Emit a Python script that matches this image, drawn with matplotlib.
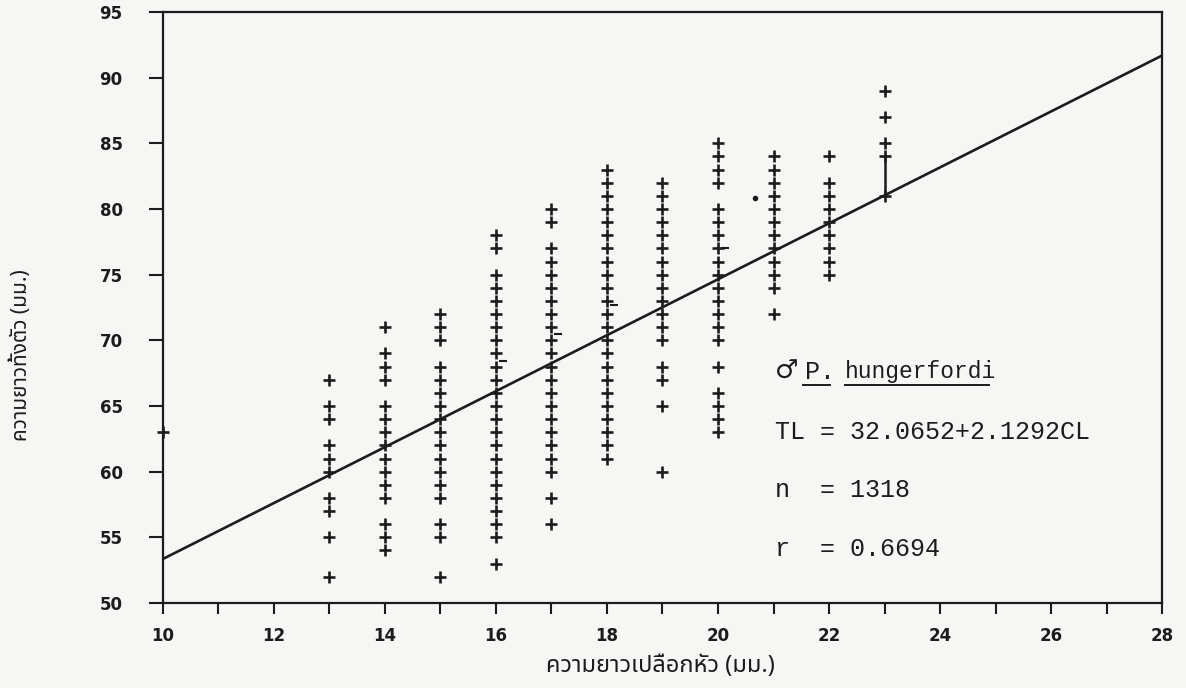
import matplotlib
matplotlib.use("Agg")
import matplotlib.pyplot as plt
from matplotlib.ticker import MultipleLocator

# Carapace length classes (mm) and the total lengths (mm) recorded in each
cl_classes = [13, 14, 15, 16, 17, 18, 19, 20, 21, 22, 23]
tl_13 = [67, 65, 64, 62, 61, 60, 58, 57, 55, 52]
tl_14 = [71, 69, 68, 67, 65, 64, 63, 62, 61, 60, 59, 58, 56, 55, 54]
tl_15 = [72, 71, 70, 68, 67, 66, 65, 64, 63, 62, 61, 60, 59, 58, 56, 55, 52]
tl_16 = [78, 77, 75, 74, 73, 72, 71, 70, 69, 68, 67, 66, 65, 64, 63, 62, 61,
         60, 59, 58, 57, 56, 55, 53]
tl_17 = [80, 79, 77, 76, 75, 74, 73, 72, 71, 70, 69, 68, 67, 66, 65, 64, 63,
         62, 61, 60, 58, 56]
tl_18 = [83, 82, 81, 80, 79, 78, 77, 76, 75, 74, 73, 72, 71, 70, 69, 68, 67,
         66, 65, 64, 63, 62, 61]
tl_19 = [82, 81, 80, 79, 78, 77, 76, 75, 74, 73, 72, 71, 70, 68, 67, 65, 60]
tl_20 = [85, 84, 83, 82, 80, 79, 78, 77, 76, 75, 74, 73, 72, 71, 70, 68, 66,
         65, 64, 63]
tl_21 = [84, 83, 82, 81, 80, 79, 78, 77, 76, 75, 74, 72]
tl_22 = [84, 82, 81, 80, 79, 78, 77, 76, 75]
tl_23 = [89, 87, 85, 84, 81]
tl_by_class = [tl_13, tl_14, tl_15, tl_16, tl_17, tl_18, tl_19, tl_20, tl_21,
               tl_22, tl_23]

# Single record on the y axis
edge_cl = [10]
edge_tl = [63]

# Short class-mean marks beside some columns
mean_cl = [16, 17, 18, 20]
mean_tl = [68.4, 70.5, 72.7, 77.0]

# Regression TL = a + b*CL
intercept = 32.0652
slope = 2.1292
n_obs = 1318
r_value = 0.6694
line_cl = [10, 28]

x_ticks = [10, 12, 14, 16, 18, 20, 22, 24, 26, 28]
y_ticks = [50, 55, 60, 65, 70, 75, 80, 85, 90, 95]

ink = "#1c1c1c"
paper = "#f6f6f4"
thai = ["Noto Sans Thai", "Noto Serif Thai", "Loma", "Garuda", "Norasi",
        "Tlwg Typo", "DejaVu Sans"]

fig = plt.figure(figsize=(11.86, 6.88), dpi=100, facecolor=paper)
ax = fig.add_axes([0.1374, 0.1235, 0.8424, 0.8591])
ax.set_facecolor(paper)

for cl, tls in zip(cl_classes, tl_by_class):
    ax.plot([cl] * len(tls), tls, linestyle="none", marker="+",
            markersize=9, markeredgewidth=1.9, color=ink)

ax.plot(edge_cl, edge_tl, linestyle="none", marker="+", markersize=9,
        markeredgewidth=1.9, color=ink, clip_on=False)

ax.plot([c + 0.12 for c in mean_cl], mean_tl, linestyle="none", marker="_",
        markersize=6, markeredgewidth=1.5, color=ink)

# vertical stroke joining the upper records of the CL 23 class
ax.plot([23, 23], [81, 84], color=ink, linewidth=1.8)
ax.plot([20.67], [80.8], linestyle="none", marker="o", markersize=3,
        color=ink)

line_tl = [intercept + slope * c for c in line_cl]
ax.plot(line_cl, line_tl, color=ink, linewidth=1.9)

ax.set_xlim(10, 28)
ax.set_ylim(50, 95)
ax.set_xticks(x_ticks)
ax.xaxis.set_minor_locator(MultipleLocator(1))
ax.set_yticks(y_ticks)
ax.set_xticklabels([str(v) for v in x_ticks], fontweight="bold",
                   fontsize=12, family="DejaVu Sans")
ax.set_yticklabels([str(v) for v in y_ticks], fontweight="bold",
                   fontsize=12, family="DejaVu Sans")
ax.tick_params(axis="x", which="both", direction="out", length=8, width=1.5,
               pad=9, colors=ink)
ax.tick_params(axis="y", which="both", direction="out", length=10, width=1.5,
               pad=19, colors=ink)
for side in ("left", "right", "top", "bottom"):
    ax.spines[side].set_linewidth(1.6)
    ax.spines[side].set_color(ink)

ax.set_xlabel("ความยาวเปลือกหัว (มม.)", family=thai, fontweight="bold",
              fontsize=17, color=ink)
ax.xaxis.set_label_coords(0.4975, -0.086)
ax.set_ylabel("ความยาวทั้งตัว (มม.)", family=thai, fontweight="bold",
              fontsize=15, color=ink)
ax.yaxis.set_label_coords(-0.131, 0.42)

mono = ["Liberation Mono", "DejaVu Sans Mono"]
tx = 21.03
ax.text(tx, 67.6, "♂", family=["DejaVu Sans"], fontsize=19, color=ink,
        va="center", ha="left")
ax.text(tx + 0.54, 67.6, "P.", family=mono, fontsize=18, color=ink,
        va="center", ha="left")
ax.text(tx + 1.25, 67.6, "hungerfordi", family=mono, fontsize=16.5,
        color=ink, va="center", ha="left")
ax.plot([tx + 0.5, tx + 0.98], [66.6, 66.6], color=ink, linewidth=1.4)
ax.plot([tx + 1.25, tx + 3.85], [66.6, 66.6], color=ink, linewidth=1.4)
ax.text(tx, 63.0, f"TL = {intercept:.4f}+{slope:.4f}CL", family=mono,
        fontsize=18, color=ink, va="center", ha="left")
ax.text(tx, 58.6, f"n  = {n_obs}", family=mono, fontsize=18, color=ink,
        va="center", ha="left")
ax.text(tx, 54.1, f"r  = {r_value:.4f}", family=mono, fontsize=18, color=ink,
        va="center", ha="left")

fig.savefig("out.png", dpi=100, facecolor=paper)
